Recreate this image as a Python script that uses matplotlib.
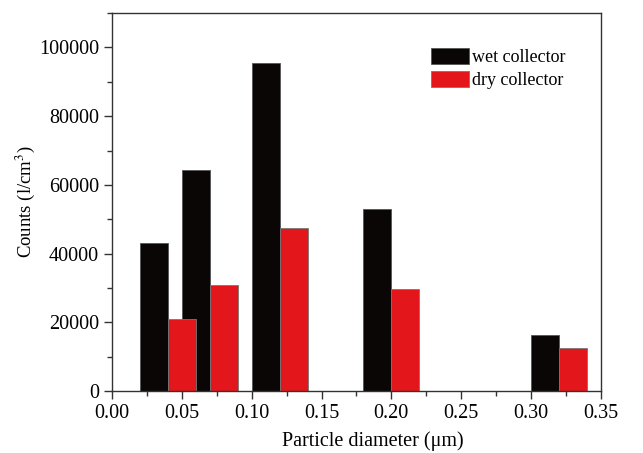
import numpy as np
import matplotlib.pyplot as plt
from matplotlib.ticker import MultipleLocator

plt.rcParams['font.family'] = ['Liberation Serif', 'DejaVu Serif']
plt.rcParams['mathtext.fontset'] = 'stix'

# ── Data ──────────────────────────────────────────────────────
wet_x = [0.03, 0.06, 0.11, 0.19, 0.31]
wet_counts = [43000, 64400, 95600, 53000, 16300]
dry_x = [0.05, 0.08, 0.13, 0.21, 0.33]
dry_counts = [20900, 30800, 47300, 29700, 12600]
bar_width = 0.02

fig = plt.figure(figsize=(6.43, 4.53), dpi=100)
ax = fig.add_axes([0.1745, 0.137, 0.7595, 0.834])

ax.bar(wet_x, wet_counts, width=bar_width, color='#0a0605',
       edgecolor='#555555', linewidth=0.6, label='wet collector')
ax.bar(dry_x, dry_counts, width=bar_width, color='#e3161c',
       edgecolor='#777777', linewidth=0.6, label='dry collector')

ax.set_xlim(0, 0.35)
ax.set_ylim(0, 110000)
ax.xaxis.set_major_locator(MultipleLocator(0.05))
ax.xaxis.set_minor_locator(MultipleLocator(0.025))
ax.yaxis.set_major_locator(MultipleLocator(20000))
ax.yaxis.set_minor_locator(MultipleLocator(10000))
ax.xaxis.set_major_formatter(plt.FormatStrFormatter('%.2f'))

for s in ax.spines.values():
    s.set_color('#333333')
    s.set_linewidth(1.0)
ax.tick_params(which='major', direction='out', length=6, width=1,
               color='#333333', labelsize=14.5, top=False, right=False)
ax.tick_params(which='minor', direction='out', length=3.5, width=1,
               color='#333333', top=False, right=False)

ax.set_xlabel('Particle diameter (μm)', fontsize=14.5, labelpad=6, x=0.533)
ax.set_ylabel('Counts (l/cm$^3$)', fontsize=13.5, labelpad=1)

ax.legend(loc='upper right', bbox_to_anchor=(0.955, 0.94), frameon=False,
          fontsize=13, handlelength=2.1, handleheight=0.95,
          handletextpad=0.2, labelspacing=0.25, borderaxespad=0.3)

fig.savefig('out.png', dpi=100)
